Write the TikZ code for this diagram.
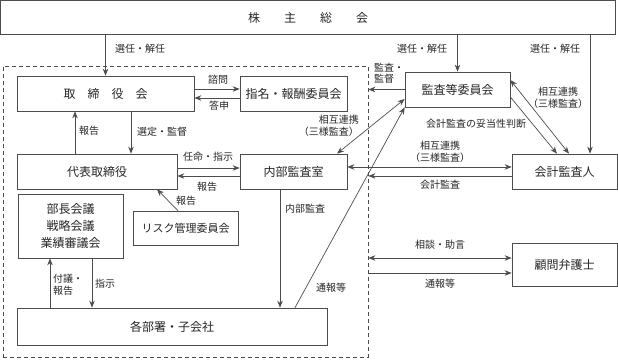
\documentclass[tikz,border=0pt]{standalone}
\usepackage{fontspec}
\setmainfont{Noto Sans CJK JP}
\usetikzlibrary{arrows.meta, positioning, calc}

\begin{document}
\begin{tikzpicture}[
    x=1pt, y=-1pt,
    box/.style={rectangle, draw=black!70, line width=0.7pt, minimum height=35pt, align=center, inner sep=0pt, text=black!85, font=\fontsize{12}{17}\selectfont},
    lbl/.style={inner sep=0pt, align=center, text=black!85, font=\fontsize{10}{12}\selectfont},
    arrow/.style={-{Stealth[length=7pt,width=5.5pt]}, draw=black!70, line width=0.7pt},
    twoway/.style={arrow, {Stealth[length=7pt,width=5.5pt]}-{Stealth[length=7pt,width=5.5pt]}}
  ]
    \useasboundingbox (0,0) rectangle (618,361);

    % boxes
    \node[draw=black!70, line width=0.7pt, dash pattern=on 4pt off 3pt, minimum width=365pt, minimum height=291pt, inner sep=0pt] (group) at (185.5,211.5) {};
    \node[box, minimum width=615pt, minimum height=34pt] (soukai) at (308,17.5) {株\hspace{2em}主\hspace{2em}総\hspace{2em}会};
    \node[box, minimum width=177pt] (tori) at (105.5,93.5) {取\hspace{1em}締\hspace{1em}役\hspace{1em}会};
    \node[box, minimum width=107pt] (shimei) at (293.5,93.5) {指名・報酬委員会};
    \node[box, minimum width=105pt] (kansa) at (457.5,89.5) {監査等委員会};
    \node[box, minimum width=105pt] (kaikei) at (564.5,171.5) {会計監査人};
    \node[box, minimum width=160pt] (daihyo) at (97,171.5) {代表取締役};
    \node[box, minimum width=107pt] (naibu) at (293.5,171.5) {内部監査室};
    \node[box, minimum width=105pt, minimum height=64pt] (bucho) at (70.5,226) {部長会議\\戦略会議\\業績審議会};
    \node[box, minimum width=105pt, minimum height=34pt, font=\fontsize{11}{13}\selectfont] (risk) at (185.5,228) {リスク管理委員会};
    \node[box, minimum width=310pt, minimum height=37pt] (kakubu) at (172,326.5) {各部署・子会社};
    \node[box, minimum width=105pt, minimum height=43pt] (komon) at (564.5,264.5) {顧問弁護士};

    % from the shareholders
    \draw[arrow] (soukai.south -| tori.north) -- (tori.north);
    \draw[arrow] (soukai.south -| kansa.north) -- (kansa.north);
    \draw[arrow] ($(soukai.south -| kaikei.north)+(25.5,0)$) -- ([xshift=25.5pt]kaikei.north);
    \node[lbl] (sennin1) at (140,49) {選任・解任};
    \node[lbl] (sennin2) at (422,49) {選任・解任};
    \node[lbl] (sennin3) at (555,49) {選任・解任};

    % board
    \draw[arrow] ([yshift=4.5pt]tori.east) -- ([yshift=4.5pt]shimei.west);
    \draw[arrow] ([yshift=-4.5pt]shimei.west) -- ([yshift=-4.5pt]tori.east);
    \node[lbl] (shimon) at (218,80) {諮問};
    \node[lbl] (toshin) at (219,106) {答申};
    \draw[arrow] ([xshift=-22pt]daihyo.north) -- ([xshift=-30.5pt]tori.south);
    \draw[arrow] ([xshift=25.5pt]tori.south) -- ([xshift=34pt]daihyo.north);
    \node[lbl] (hokoku1) at (89,131) {報告};
    \node[lbl] (sentei) at (162,132) {選定・監督};

    % representative director
    \draw[arrow] ([yshift=3.5pt]daihyo.east) -- ([yshift=3.5pt]naibu.west);
    \draw[arrow] ([yshift=-4.5pt]naibu.west) -- ([yshift=-4.5pt]daihyo.east);
    \node[lbl] (ninmei) at (208,157) {任命・指示};
    \node[lbl] (hokoku2) at (207,187) {報告};
    \draw[arrow] ([xshift=-7.5pt]risk.north) -- ([xshift=60pt]daihyo.south);
    \node[lbl] (hokoku3) at (186,201) {報告};

    % departments
    \draw[arrow] ([xshift=21.5pt]bucho.south) -- ([xshift=-80pt]kakubu.north);
    \draw[arrow] ([xshift=-122pt]kakubu.north) -- ([xshift=-20.5pt]bucho.south);
    \node[lbl, align=left] (fugi) at (68,285) {付議・\\報告};
    \node[lbl] (shiji) at (105,284) {指示};
    \draw[arrow] ([xshift=-13.5pt]naibu.south) -- ([xshift=108pt]kakubu.north);
    \node[lbl] (naibukansa) at (305,209) {内部監査};
    \draw[arrow] ([xshift=123pt]kakubu.north) -- (kansa.south west);
    \node[lbl] (tsuho1) at (331,288) {通報等};

    % audit committee
    \draw[arrow] (kansa.west) -- (kansa.west -| group.east);
    \node[lbl, align=left, font=\fontsize{10}{11}\selectfont] (kantoku) at (389,73) {監査・\\監督};
    \draw[twoway] ([xshift=43.5pt]naibu.north) -- ([yshift=-9.5pt]kansa.west);
    \node[lbl, align=right, anchor=east, font=\fontsize{10}{11.5}\selectfont] (renkei1) at (359,126) {相互連携\\（三様監査）};
    \draw[twoway] ([yshift=9.5pt]kansa.east) -- ([xshift=4.5pt]kaikei.north);
    \draw[arrow] ([yshift=-7.5pt]kansa.east) -- ([xshift=-7.5pt]kaikei.north);
    \node[lbl, font=\fontsize{10}{11.5}\selectfont] (renkei2) at (558,98) {相互連携\\（三様監査）};
    \node[lbl] (datosei) at (476,124) {会計監査の妥当性判断};

    % accounting auditor
    \draw[twoway] ([yshift=4.5pt]naibu.east) -- ([yshift=4.5pt]kaikei.west);
    \node[lbl, font=\fontsize{10}{11.5}\selectfont] (renkei3) at (440,152) {相互連携\\（三様監査）};
    \draw[arrow] ([yshift=-4.5pt]kaikei.west) -- ($(kaikei.west -| group.east)+(0,4.5)$);
    \node[lbl] (kaikeikansa) at (440,185) {会計監査};

    % legal counsel
    \draw[twoway] ($(komon.west -| group.east)+(0,-6.5)$) -- ([yshift=6.5pt]komon.west);
    \draw[arrow] ($(komon.west -| group.east)+(0,8.5)$) -- ([yshift=-8.5pt]komon.west);
    \node[lbl] (sodan) at (440,245) {相談・助言};
    \node[lbl] (tsuho2) at (440,284) {通報等};
\end{tikzpicture}
\end{document}
